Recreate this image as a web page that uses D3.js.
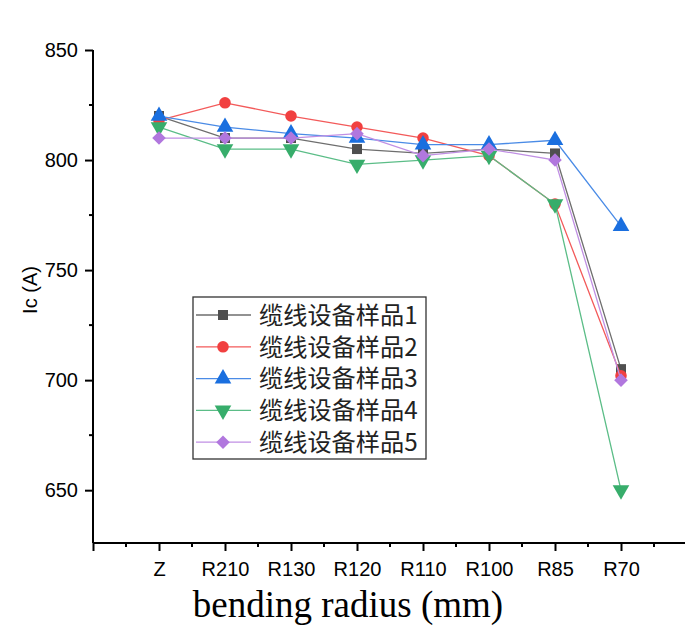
<!DOCTYPE html>
<html>
<head>
<meta charset="utf-8">
<script src="https://cdn.jsdelivr.net/npm/d3@7"></script>
<style>
  html, body { margin: 0; padding: 0; background: #fff; }
  svg { display: block; }
</style>
</head>
<body>
<svg id="chart" width="685" height="628"></svg>
<script>
const categories = ["Z", "R210", "R130", "R120", "R110", "R100", "R85", "R70"];
const seriesNames = ["缆线设备样品1", "缆线设备样品2", "缆线设备样品3", "缆线设备样品4", "缆线设备样品5"];
const sample1 = [820, 810, 810, 805, 803, 805, 803, 705];
const sample2 = [818, 826, 820, 815, 810, 802, 780, 702];
const sample3 = [820, 815, 812, 810, 807, 807, 809, 770];
const sample4 = [815, 805, 805, 798, 800, 802, 780, 650];
const sample5 = [810, 810, 810, 812, 802, 805, 800, 700];
const yTicks = [650, 700, 750, 800, 850];
const yMinorTicks = [675, 725, 775, 825];
const colors = ["#4f4f4f", "#f14040", "#1a6fdf", "#37ad6b", "#b177de"];
const lineColors = ["#6e6e6e", "#f35a5a", "#4a8be6", "#5bbd87", "#c08fe4"];
const symbols = [d3.symbolSquare, d3.symbolCircle, d3.symbolTriangle, d3.symbolTriangle, d3.symbolSquare];
const symbolSizes = [100, 105, 120, 120, 92];
const symbolRotate = [0, 0, 0, 180, 45];
const allSeries = [sample1, sample2, sample3, sample4, sample5];

const svg = d3.select("#chart");
const pLeft = 93, pRight = 687, pTop = 50, pBottom = 543;

const x = d3.scaleLinear().domain([0, categories.length + 1]).range([pLeft, pRight]);
const y = d3.scaleLinear().domain([626, 850]).range([pBottom, pTop]);

// Y axis
const yAxis = svg.append("g").attr("transform", `translate(${pLeft},0)`)
  .call(d3.axisLeft(y).tickValues(yTicks).tickSize(8).tickPadding(7).tickFormat(d3.format("d")));
yAxis.select(".domain").attr("stroke", "#000").attr("stroke-width", 2).attr("d", `M0,${pTop}V${pBottom}`);
yAxis.selectAll(".tick line").attr("stroke", "#000").attr("stroke-width", 2);
yAxis.selectAll(".tick text").attr("font-family", "Liberation Sans, Arial, sans-serif").attr("font-size", 20).attr("fill", "#000");
svg.append("g").attr("transform", `translate(${pLeft},0)`)
  .selectAll("line").data(yMinorTicks).join("line")
  .attr("x1", -4).attr("x2", 0).attr("y1", d => y(d)).attr("y2", d => y(d))
  .attr("stroke", "#000").attr("stroke-width", 2);

// X axis
const majorX = d3.range(0, categories.length + 2);
const minorX = d3.range(0, categories.length + 1).map(d => d + 0.5);
const xAxis = svg.append("g").attr("transform", `translate(0,${pBottom})`)
  .call(d3.axisBottom(x).tickValues(majorX).tickSize(8).tickPadding(11)
    .tickFormat(d => (d >= 1 && d <= categories.length) ? categories[d - 1] : ""));
xAxis.select(".domain").attr("stroke", "#000").attr("stroke-width", 2).attr("d", `M${pLeft},0H${pRight}`);
xAxis.selectAll(".tick line").attr("stroke", "#000").attr("stroke-width", 2);
xAxis.selectAll(".tick text").attr("font-family", "Liberation Sans, Arial, sans-serif").attr("font-size", 20).attr("fill", "#000");
svg.append("g").attr("transform", `translate(0,${pBottom})`)
  .selectAll("line").data(minorX).join("line")
  .attr("x1", d => x(d)).attr("x2", d => x(d)).attr("y1", 0).attr("y2", 4)
  .attr("stroke", "#000").attr("stroke-width", 2);

// Axis titles
svg.append("text").attr("transform", `translate(37,290) rotate(-90)`)
  .attr("text-anchor", "middle").attr("font-family", "Liberation Sans, Arial, sans-serif")
  .attr("font-size", 20).attr("fill", "#000").text("Ic (A)");
svg.append("text").attr("x", 348).attr("y", 617)
  .attr("text-anchor", "middle").attr("font-family", "Liberation Serif, 'Times New Roman', serif")
  .attr("font-size", 37).attr("fill", "#000").text("bending radius (mm)");

// Lines and markers
const line = d3.line().x((d, i) => x(i + 1)).y(d => y(d));
allSeries.forEach((s, k) => {
  const g = svg.append("g");
  g.append("path").datum(s).attr("d", line).attr("fill", "none")
    .attr("stroke", lineColors[k]).attr("stroke-width", 1.3);
  g.selectAll("path.m").data(s).join("path").attr("class", "m")
    .attr("d", d3.symbol().type(symbols[k]).size(symbolSizes[k]))
    .attr("transform", (d, i) => `translate(${x(i + 1)},${y(d)}) rotate(${symbolRotate[k]})`)
    .attr("fill", colors[k]);
});

// Legend
const lg = svg.append("g");
lg.append("rect").attr("x", 193).attr("y", 297).attr("width", 233).attr("height", 162)
  .attr("fill", "#fff").attr("stroke", "#333").attr("stroke-width", 1.3);
seriesNames.forEach((name, k) => {
  const cy = 315 + k * 31.8;
  lg.append("line").attr("x1", 196).attr("x2", 251).attr("y1", cy).attr("y2", cy)
    .attr("stroke", lineColors[k]).attr("stroke-width", 1.3);
  lg.append("path").attr("d", d3.symbol().type(symbols[k]).size(symbolSizes[k]))
    .attr("transform", `translate(223,${cy}) rotate(${symbolRotate[k]})`).attr("fill", colors[k]);
  lg.append("text").attr("x", 259).attr("y", cy).attr("dy", "0.36em")
    .attr("font-family", "'Noto Sans CJK SC', sans-serif").attr("font-size", 24.2)
    .attr("fill", "#222").text(name);
});
</script>
</body>
</html>
